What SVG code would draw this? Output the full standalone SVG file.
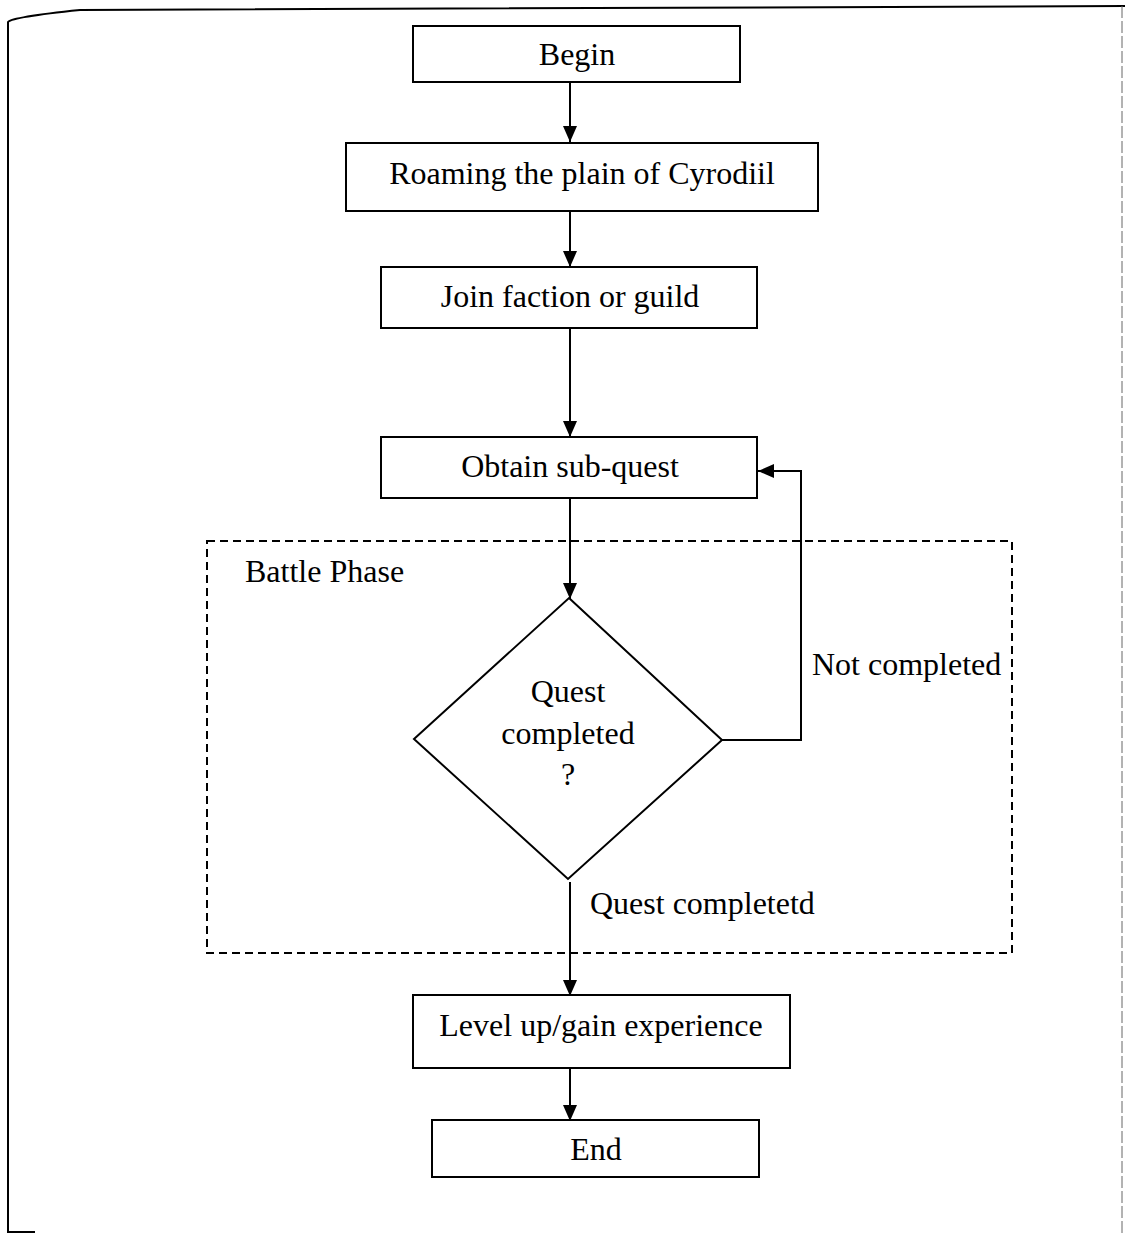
<svg xmlns="http://www.w3.org/2000/svg" width="1125" height="1234" viewBox="0 0 1125 1234">
<style>
.box{fill:#fff;stroke:#000;stroke-width:2}
.t{font-family:"Liberation Serif","Times New Roman",serif;font-size:32px;fill:#000}
.m{text-anchor:middle}
.c{fill:none;stroke:#000;stroke-width:2}
</style>
<defs>
<marker id="a" viewBox="0 0 16 14" refX="16" refY="7" markerWidth="16" markerHeight="14" markerUnits="userSpaceOnUse" orient="auto">
<path d="M0,0 L16,7 L0,14 Z" fill="#000"/>
</marker>
</defs>
<rect width="1125" height="1234" fill="#fff"/>
<g id="frame">
<path d="M35,1232 L8,1232 L8,22 Q12,17 80,10 L1125,6" fill="none" stroke="#000" stroke-width="2"/>
<line x1="1122" y1="6" x2="1122" y2="1234" stroke="#666" stroke-width="1" stroke-dasharray="12 3"/>
</g>
<g id="battle-phase">
<rect x="207" y="541" width="805" height="412" fill="none" stroke="#000" stroke-width="2" stroke-dasharray="8 5"/>
<text class="t" x="245" y="582">Battle Phase</text>
</g>
<g id="connectors">
<line class="c" x1="570" y1="82" x2="570" y2="142" marker-end="url(#a)"/>
<line class="c" x1="570" y1="211" x2="570" y2="267" marker-end="url(#a)"/>
<line class="c" x1="570" y1="328" x2="570" y2="437" marker-end="url(#a)"/>
<line class="c" x1="570" y1="498" x2="570" y2="599" marker-end="url(#a)"/>
<polyline class="c" points="722,740 801,740 801,471 758,471" marker-end="url(#a)"/>
<line class="c" x1="570" y1="882" x2="570" y2="996" marker-end="url(#a)"/>
<line class="c" x1="570" y1="1068" x2="570" y2="1121" marker-end="url(#a)"/>
<text class="t" x="812" y="675">Not completed</text>
<text class="t" x="590" y="914">Quest completetd</text>
</g>
<g id="begin">
<rect class="box" x="413" y="26" width="327" height="56"/>
<text class="t m" x="577" y="65">Begin</text>
</g>
<g id="roaming">
<rect class="box" x="346" y="143" width="472" height="68"/>
<text class="t m" x="582" y="184">Roaming the plain of Cyrodiil</text>
</g>
<g id="join">
<rect class="box" x="381" y="267" width="376" height="61"/>
<text class="t m" x="570" y="307">Join faction or guild</text>
</g>
<g id="obtain">
<rect class="box" x="381" y="437" width="376" height="61"/>
<text class="t m" x="570" y="477">Obtain sub-quest</text>
</g>
<g id="decision">
<polygon class="box" points="569,598 722,740 568,879 414,739"/>
<text class="t m" x="568" y="702">Quest</text>
<text class="t m" x="568" y="744">completed</text>
<text class="t m" x="568" y="785">?</text>
</g>
<g id="levelup">
<rect class="box" x="413" y="995" width="377" height="73"/>
<text class="t m" x="601" y="1036">Level up/gain experience</text>
</g>
<g id="end">
<rect class="box" x="432" y="1120" width="327" height="57"/>
<text class="t m" x="596" y="1160">End</text>
</g>
</svg>
